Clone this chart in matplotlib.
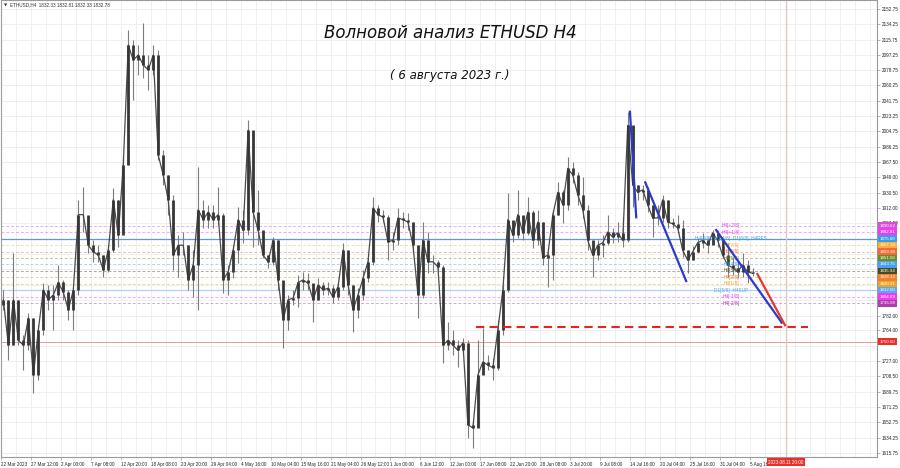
import matplotlib.pyplot as plt
import matplotlib.transforms as mtransforms

# ETHUSD H4, 22 Mar - 6 Aug 2023 in groups of 5.5 bars
close = [1801, 1746, 1801, 1752, 1746, 1779, 1710, 1765, 1813, 1801,
         1807, 1822, 1810, 1789, 1813, 1904, 1904, 1867, 1859, 1855,
         1837, 1861, 1922, 1879, 1964, 2109, 2091, 2097, 2085, 2079,
         2097, 1976, 1952, 1922, 1855, 1867, 1867, 1825, 1843, 1910,
         1898, 1907, 1898, 1904, 1825, 1835, 1861, 1898, 1885, 2006,
         1907, 1885, 1855, 1847, 1873, 1825, 1777, 1801, 1803, 1822,
         1825, 1821, 1801, 1819, 1813, 1815, 1804, 1817, 1861, 1819,
         1789, 1807, 1827, 1847, 1912, 1904, 1901, 1871, 1873, 1900,
         1898, 1895, 1867, 1807, 1873, 1847, 1847, 1841, 1746, 1752,
         1746, 1740, 1749, 1650, 1646, 1710, 1726, 1722, 1719, 1765,
         1813, 1898, 1879, 1904, 1882, 1907, 1873, 1895, 1852, 1855,
         1904, 1931, 1916, 1960, 1952, 1928, 1910, 1873, 1855, 1867,
         1870, 1883, 1877, 1882, 1873, 2012, 1940, 1931, 1934, 1916,
         1900, 1900, 1922, 1895, 1893, 1888, 1861, 1849, 1859, 1870,
         1873, 1867, 1882, 1873, 1855, 1843, 1840, 1835, 1843, 1835,
         1833]
high = [1813, 1801, 1858, 1801, 1758, 1785, 1779, 1771, 1821, 1819,
        1819, 1843, 1825, 1813, 1817, 1922, 1937, 1888, 1873, 1867,
        1855, 1867, 1936, 1922, 1972, 2127, 2115, 2109, 2136, 2097,
        2109, 2103, 1982, 1952, 1928, 1879, 1883, 1867, 1861, 1962,
        1922, 1916, 1916, 1937, 1906, 1843, 1867, 1913, 1910, 2019,
        1976, 1934, 1879, 1855, 1877, 1873, 1813, 1807, 1813, 1831,
        1835, 1833, 1819, 1827, 1822, 1822, 1819, 1822, 1870, 1861,
        1819, 1815, 1837, 1855, 1925, 1916, 1910, 1904, 1883, 1912,
        1907, 1906, 1895, 1867, 1895, 1883, 1855, 1849, 1843, 1774,
        1765, 1752, 1755, 1752, 1656, 1752, 1767, 1734, 1731, 1777,
        1819, 1930, 1895, 1934, 1900, 1925, 1910, 1910, 1895, 1861,
        1910, 1944, 1934, 1974, 1968, 1956, 1950, 1916, 1867, 1873,
        1879, 1904, 1888, 1895, 1901, 2028, 2000, 1940, 1940, 1937,
        1916, 1916, 1928, 1922, 1900, 1904, 1898, 1861, 1866, 1876,
        1882, 1876, 1885, 1885, 1876, 1870, 1853, 1847, 1858, 1849,
        1840]
low = [1789, 1728, 1746, 1746, 1716, 1740, 1688, 1704, 1758, 1789,
       1765, 1801, 1801, 1777, 1765, 1807, 1883, 1858, 1847, 1847,
       1829, 1835, 1859, 1865, 1895, 1964, 2043, 2073, 2069, 2055,
       2073, 1970, 1940, 1904, 1837, 1829, 1855, 1813, 1804, 1789,
       1888, 1888, 1888, 1892, 1809, 1807, 1827, 1846, 1870, 1879,
       1865, 1867, 1852, 1840, 1843, 1813, 1743, 1765, 1795, 1792,
       1813, 1813, 1774, 1801, 1807, 1807, 1797, 1801, 1813, 1807,
       1762, 1779, 1801, 1822, 1843, 1895, 1895, 1849, 1861, 1867,
       1888, 1885, 1859, 1779, 1803, 1833, 1833, 1835, 1725, 1740,
       1734, 1720, 1738, 1634, 1622, 1662, 1714, 1716, 1704, 1716,
       1758, 1810, 1871, 1876, 1873, 1879, 1864, 1867, 1843, 1817,
       1825, 1904, 1894, 1910, 1942, 1916, 1900, 1861, 1829, 1849,
       1853, 1867, 1870, 1871, 1865, 1871, 1913, 1922, 1922, 1907,
       1877, 1892, 1895, 1888, 1888, 1882, 1853, 1833, 1849, 1858,
       1864, 1858, 1873, 1865, 1852, 1829, 1831, 1827, 1829, 1821,
       1830]
first_open = 1795
bars_per_col = 5.5

time_labels = ["22 Mar 2023", "27 Mar 12:00", "2 Apr 00:00", "7 Apr 08:00",
               "12 Apr 20:00", "18 Apr 08:00", "23 Apr 20:00", "29 Apr 04:00",
               "4 May 16:00", "10 May 04:00", "15 May 16:00", "21 May 04:00",
               "26 May 12:00", "1 Jun 00:00", "6 Jun 12:00", "12 Jun 00:00",
               "17 Jun 08:00", "22 Jun 20:00", "28 Jun 08:00", "3 Jul 20:00",
               "9 Jul 08:00", "14 Jul 16:00", "20 Jul 04:00", "25 Jul 16:00",
               "31 Jul 04:00", "5 Aug 16:00"]
bars_per_label = 33

price_labels = [2152.75, 2134.25, 2115.75, 2097.25, 2078.75, 2060.25, 2041.75,
                2023.25, 2004.75, 1986.25, 1967.50, 1949.00, 1930.50, 1912.00,
                1893.50, 1782.00, 1764.00, 1727.00, 1708.50, 1689.75, 1671.25,
                1652.75, 1634.25, 1615.75]
hidden_grid = [1875.00, 1856.50, 1838.00, 1819.50, 1801.00, 1745.50]

# Murrey levels (H4)
levels = [1890.62, 1882.81, 1875.00, 1867.19, 1859.38, 1851.56, 1843.75,
          1835.94, 1828.13, 1820.31, 1812.50, 1804.69, 1796.88]
level_names = ["H4[+2/8]", "H4[+1/8]", "H4[8/8]  W1[4/8]  D1[6/8]  H4RES", "H4[7/8]",
               "H4[6/8]", "H4[5/8]", "H4[4/8]", "H4[3/8]", "H4[2/8]", "H4[1/8]",
               "D1[5/8]  H4SUP", "H4[-1/8]", "H4[-2/8]"]
level_colors = ["#d64fd6", "#f03cf0", "#3d9be9", "#f5b041", "#f2693a", "#6b8e23",
                "#4a9ff0", "#4b4b23", "#f07f2f", "#eba42a", "#5aa9f0", "#f03cf0",
                "#b03cb0"]

support = 1750.50
target = 1768.5
target_start = 523.6
target_end = 888.8
vline_bar = 864
vline_label = "2023.08.11 20:00"

# wave lines: (bar, price) pairs
blue_waves = [((692.7, 2028.5), (699.6, 1900.8)),
              ((709.5, 1943.1), (754.6, 1823.7)),
              ((787.6, 1885.4), (859.9, 1773.3))]
red_wave = ((833.0, 1832.2), (863.5, 1770.2))

small = "Liberation Sans"

fig = plt.figure(figsize=(9, 4.68), dpi=100)
ax = fig.add_axes([0.001, 0.0235, 0.9734, 0.9765])
ax.set_xlim(0, 964.7)
ax.set_ylim(1610.9, 2163.6)

# grid
for k in range(60):
    ax.axvline(k * bars_per_label / 2, color="#ececec", lw=0.6, zorder=0)
for p in price_labels + hidden_grid:
    ax.axhline(p, color="#ececec", lw=0.6, zorder=0)

# levels
for lvl, name, col in zip(levels, level_names, level_colors):
    if name.endswith("RES"):
        ax.axhline(lvl, color="#5b9bd5", lw=0.9, zorder=1)
    elif name.endswith("SUP"):
        ax.axhline(lvl, color="#b0d2f0", lw=0.9, zorder=1)
    else:
        ax.axhline(lvl, color=col, lw=0.7, alpha=0.45, ls=(0, (3, 2)), zorder=1)
ax.axhline(support, color="#e89a9a", lw=0.7, zorder=1)
ax.axvline(vline_bar, color="#dccbc4", lw=1.0, zorder=1)

# candles
opens = [first_open] + close[:-1]
xs = [(i + 0.5) * bars_per_col for i in range(len(close))]
ax.vlines(xs, low, high, color="#7c7c7c", lw=0.8, zorder=3)
ax.plot(xs, close, color="#4a4a4a", lw=0.9, zorder=3)
for x, o, c in zip(xs, opens, close):
    ax.vlines(x, min(o, c), max(o, c), color="#363636", lw=2.0, zorder=4)

# level labels near the last bars
for lvl, name, col in zip(levels, level_names, level_colors):
    ax.text(804, lvl, name, color=col, fontsize=3.4, family=small, ha="center",
            va="center", zorder=5)

# wave markup
for (x0, y0), (x1, y1) in blue_waves:
    ax.plot([x0, x1], [y0, y1], color="#2a3bc8", lw=1.6, zorder=6)
ax.plot([red_wave[0][0], red_wave[1][0]], [red_wave[0][1], red_wave[1][1]],
        color="#e23a2a", lw=1.6, zorder=6)
ax.hlines(target, target_start, target_end, colors="#e02626", lw=1.5,
          linestyles=(0, (4, 2.5)), zorder=6)

# axes
for s in ax.spines.values():
    s.set_color("#9a9a9a")
    s.set_linewidth(0.8)
ax.set_xticks([k * bars_per_label for k in range(len(time_labels))])
ax.set_xticklabels(time_labels, fontsize=3.3, family=small, color="#222222", ha="left")
ax.yaxis.tick_right()
ax.set_yticks(price_labels)
ax.set_yticklabels([f"{p:.2f}" for p in price_labels], fontsize=3.3, family=small,
                   color="#222222")
ax.tick_params(axis="both", length=2, width=0.5, color="#9a9a9a", pad=1.5)

ty = mtransforms.blended_transform_factory(ax.transAxes, ax.transData)
for lvl, col in zip(levels, level_colors):
    ax.text(1.003, lvl, f"{lvl:.2f}", transform=ty, fontsize=3.2, family=small,
            color="white", ha="left", va="center", clip_on=False, zorder=10,
            bbox=dict(boxstyle="square,pad=0.3", fc=col, ec="none"))
ax.text(1.003, support, f"{support:.2f}", transform=ty, fontsize=3.2, family=small,
        color="white", ha="left", va="center", clip_on=False, zorder=10,
        bbox=dict(boxstyle="square,pad=0.3", fc="#e8302a", ec="none"))
tx = mtransforms.blended_transform_factory(ax.transData, ax.transAxes)
ax.text(vline_bar, -0.011, vline_label, transform=tx, fontsize=3.3, family=small,
        color="white", ha="center", va="center", clip_on=False, zorder=10,
        bbox=dict(boxstyle="square,pad=0.3", fc="#e8302a", ec="none"))

# header and titles
fig.text(0.004, 0.989, "\u25bc", fontsize=3, color="#333333", va="center")
fig.text(0.011, 0.989, "ETHUSD,H4  1832.33 1832.81 1832.33 1832.78", fontsize=3.3,
         family=small, color="#333333", va="center")
fig.text(0.5, 0.93, "Волновой анализ ETHUSD H4", fontsize=12, style="italic",
         ha="center", va="center", color="#111111")
fig.text(0.5, 0.838, "( 6 августа 2023 г.)", fontsize=8.5, style="italic",
         ha="center", va="center", color="#111111")

fig.savefig("out.png", dpi=100)
